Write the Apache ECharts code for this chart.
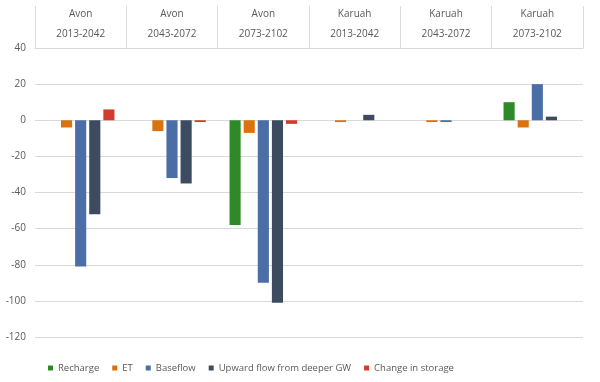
<!DOCTYPE html>
<html><head><meta charset="utf-8">
<script src="https://cdn.jsdelivr.net/npm/echarts@6/dist/echarts.min.js"></script>
<style>html,body{margin:0;padding:0;background:#fff}#c{width:600px;height:382px}</style>
</head><body><div id="c"></div>
<script>
const categories = ["Avon\n2013-2042","Avon\n2043-2072","Avon\n2073-2102","Karuah\n2013-2042","Karuah\n2043-2072","Karuah\n2073-2102"];
const seriesNames = ["Recharge","ET","Baseflow","Upward flow from deeper GW","Change in storage"];
const recharge = [0, 0, -58, 0, 0, 10];
const et = [-4, -6, -7, -1, -1, -4];
const baseflow = [-81, -32, -90, 0, -1, 20];
const upward = [-52, -35, -101, 3, 0, 2];
const storage = [6, -1, -2, 0, 0, 0];
const colors = ["#2e8a27","#d9720f","#4a6ea5","#3c4b60","#d33b2a"];
const yTicks = {min:-120, max:40, interval:20};

const font = "'Open Sans', 'Noto Sans', sans-serif";
const dataArr = [recharge, et, baseflow, upward, storage];
const chart = echarts.init(document.getElementById('c'), null, {renderer:'canvas'});
chart.setOption({
  animation:false,
  color: colors,
  textStyle:{fontFamily:font},
  grid:{left:35, right:17, top:48, bottom:45},
  xAxis:{
    type:'category', data:categories, position:'top',
    axisLine:{show:true, onZero:false, lineStyle:{color:'#d9d9d9'}},
    axisTick:{show:true, length:42, interval:0, lineStyle:{color:'#d9d9d9'}},
    axisLabel:{interval:0, color:'#595959', fontSize:10, lineHeight:20, margin:4, fontFamily:font}
  },
  yAxis:{
    type:'value', min:yTicks.min, max:yTicks.max, interval:yTicks.interval,
    axisLine:{show:false}, axisTick:{show:false},
    axisLabel:{color:'#595959', fontSize:10, margin:9, fontFamily:font},
    splitLine:{lineStyle:{color:'#d9d9d9'}}
  },
  legend:{
    left:43, top:358, icon:'rect', itemWidth:5, itemHeight:5, itemGap:13,
    textStyle:{color:'#595959', fontSize:9.5, fontFamily:font},
    data:seriesNames
  },
  series: seriesNames.map((n,i)=>({
    name:n, type:'bar', data:dataArr[i],
    barGap:'27%', barCategoryGap:'26%',
    itemStyle:{color:colors[i]}
  }))
});
</script></body></html>
